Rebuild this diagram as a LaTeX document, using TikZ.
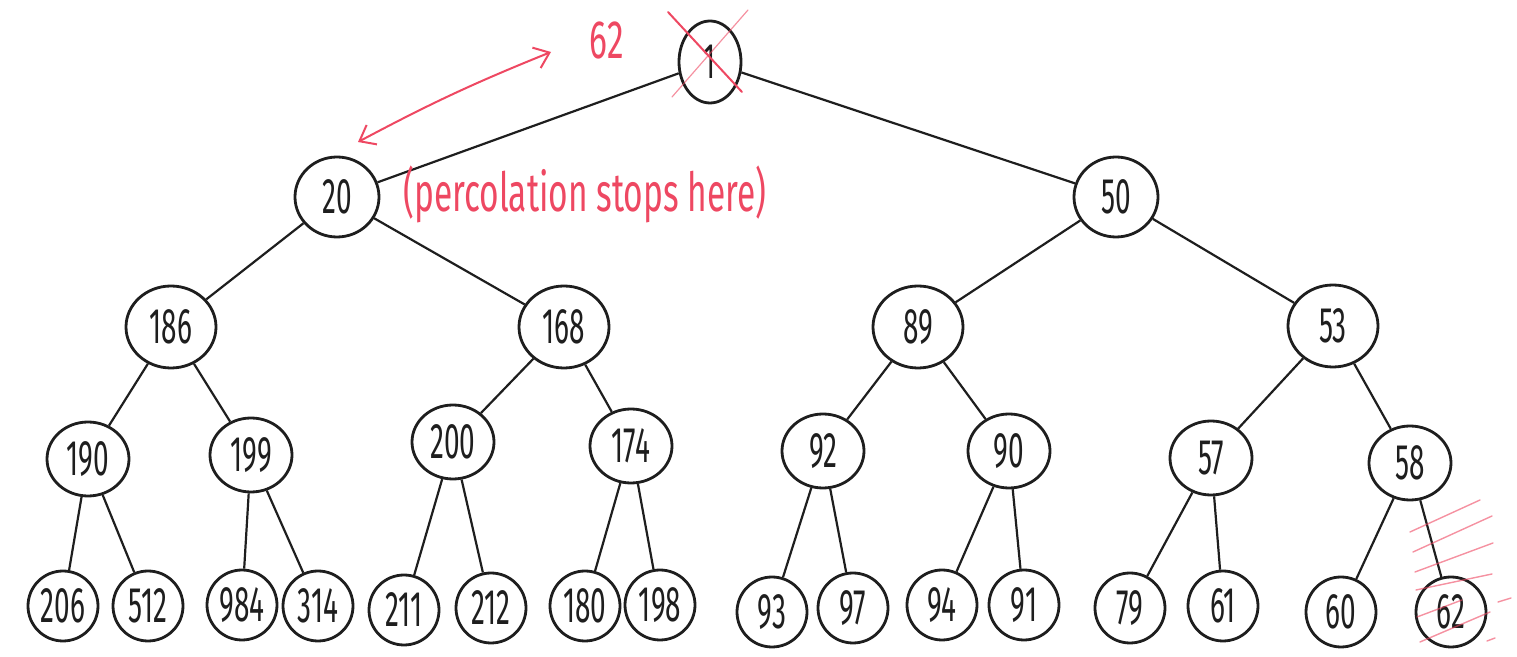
\documentclass[tikz,border=0pt]{standalone}
\usepackage{fontspec}
\newfontfamily\handfont[FakeStretch=0.56]{Fira Sans}
\newfontfamily\notefont[FakeStretch=0.62]{Fira Sans}
\usetikzlibrary{arrows.meta,shapes.geometric}
\definecolor{hred}{RGB}{238,72,98}
\definecolor{ink}{RGB}{30,30,30}
\tikzset{
  heap/.style={ellipse, draw=ink, line width=1.4pt, inner sep=0pt,
    font=\handfont\fontsize{25}{25}\selectfont, text=ink},
  rootnode/.style={heap, minimum width=31pt, minimum height=41pt},
  lvA/.style={heap, minimum width=42pt, minimum height=40pt},
  lvB/.style={heap, minimum width=45pt, minimum height=41pt},
  lvC/.style={heap, minimum width=41pt, minimum height=37pt},
  leaf/.style={heap, minimum width=35pt, minimum height=35pt},
  link/.style={draw=ink, line width=1.1pt},
  redpen/.style={draw=hred, line width=1pt, line cap=round},
  hatch/.style={draw=hred, line width=0.7pt, opacity=0.6, line cap=round},
  note/.style={text=hred, font=\notefont\fontsize{27}{27}\selectfont}
}
\begin{document}
\begin{tikzpicture}[x=0.5pt,y=-0.5pt]
\useasboundingbox (0,0) rectangle (1517,657);

% heap nodes
\node[rootnode] (n1) at (710,62) {1};
\node[lvA] (n20) at (337,197) {20};
\node[lvA] (n50) at (1116,197) {50};
\node[lvB] (n186) at (171,327) {186};
\node[lvB] (n168) at (564,327) {168};
\node[lvB] (n89) at (918,327) {89};
\node[lvB] (n53) at (1333,326) {53};
\node[lvC] (n190) at (88,459) {190};
\node[lvC] (n199) at (251,455) {199};
\node[lvC] (n200) at (453,442) {200};
\node[lvC] (n174) at (631,446) {174};
\node[lvC] (n92) at (823,451) {92};
\node[lvC] (n90) at (1009,451) {90};
\node[lvC] (n57) at (1211,458) {57};
\node[lvC] (n58) at (1410,463) {58};
\node[leaf] (n206) at (63,606) {206};
\node[leaf] (n512) at (148,606) {512};
\node[leaf] (n984) at (242,605) {984};
\node[leaf] (n314) at (318,606) {314};
\node[leaf] (n211) at (404,610) {211};
\node[leaf] (n212) at (491,608) {212};
\node[leaf] (n180) at (585,606) {180};
\node[leaf] (n198) at (660,605) {198};
\node[leaf] (n93) at (772,612) {93};
\node[leaf] (n97) at (853,608) {97};
\node[leaf] (n94) at (942,605) {94};
\node[leaf] (n91) at (1024,605) {91};
\node[leaf] (n79) at (1130,608) {79};
\node[leaf] (n61) at (1223,606) {61};
\node[leaf] (n60) at (1341,612) {60};
\node[leaf] (n62) at (1451,612) {62};

% tree edges
\foreach \p/\c in {n1/n20,n1/n50,
    n20/n186,n20/n168,n50/n89,n50/n53,
    n186/n190,n186/n199,n168/n200,n168/n174,
    n89/n92,n89/n90,n53/n57,n53/n58,
    n190/n206,n190/n512,n199/n984,n199/n314,
    n200/n211,n200/n212,n174/n180,n174/n198,
    n92/n93,n92/n97,n90/n94,n90/n91,
    n57/n79,n57/n61,n58/n60,n58/n62}
  \draw[link] (\p) -- (\c);

% root crossed out
\coordinate (xa) at (668,12);
\coordinate (xb) at (742,92);
\coordinate (xc) at (748,10);
\coordinate (xd) at (672,97);
\draw[redpen] (xa) -- (xb);
\draw[redpen, line width=0.6pt, opacity=0.6] (xc) -- (xd);

% swap arrow and moved key
\coordinate (arrA) at (358,142);
\coordinate (arrB) at (551,52);
\draw[redpen, {Straight Barb[length=7pt,width=11pt]}-{Straight Barb[length=7pt,width=11pt]}]
  (arrA) to[bend left=3] (arrB);
\node[note] (moved) at (607,40) {62};
\node[note] (stop) at (585,194) {(percolation stops here)};

% hatching over the last leaf
\foreach \ya/\yb/\xl/\xr in {532/500/1410/1480, 552/516/1413/1492,
    572/543/1415/1493, 590/574/1416/1492, 617/600/1417/1462, 642/612/1420/1490}
  \draw[hatch] (\xl,\ya) -- (\xr,\yb);
\draw[hatch] (1498,602) -- (1511,598);
\draw[hatch] (1487,641) -- (1495,638);
\end{tikzpicture}
\end{document}
